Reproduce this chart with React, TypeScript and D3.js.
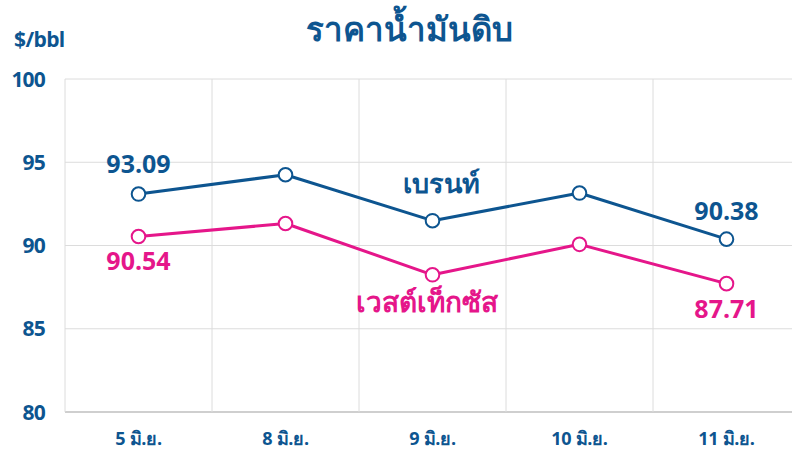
import React from "react";
import * as d3 from "d3";

const categories = ["5 มิ.ย.", "8 มิ.ย.", "9 มิ.ย.", "10 มิ.ย.", "11 มิ.ย."];
const brent = [93.09, 94.25, 91.49, 93.15, 90.38];
const wti = [90.54, 91.32, 88.24, 90.07, 87.71];
const yTicks = [80, 85, 90, 95, 100];

const W = 792;
const H = 450;
const BLUE = "#0d5590";
const PINK = "#e5168a";
const FONT = "'Open Sans', 'Noto Sans', sans-serif";

export default function App() {
  const x = d3.scaleBand<string>().domain(categories).range([65, 800]);
  const y = d3.scaleLinear().domain([80, 100]).range([412, 79]);
  const cx = (c: string) => (x(c) as number) + x.bandwidth() / 2;
  const line = d3
    .line<number>()
    .x((_, i) => cx(categories[i]))
    .y((d) => y(d));

  const series = [
    { values: brent, color: BLUE },
    { values: wti, color: PINK },
  ];

  return (
    <svg
      width={W}
      height={H}
      style={{ position: "absolute", left: 0, top: 0, background: "#fff" }}
    >
      <rect width={W} height={H} fill="#fff" />
      {yTicks.map((t) => (
        <line
          key={"h" + t}
          x1={65}
          x2={800}
          y1={y(t)}
          y2={y(t)}
          stroke={t === 80 ? "#bfbfbf" : "#dcdcdc"}
          strokeWidth={t === 80 ? 1.5 : 1}
        />
      ))}
      {categories.map((c) => (
        <line
          key={"v" + c}
          x1={x(c) as number}
          x2={x(c) as number}
          y1={y(100)}
          y2={y(80)}
          stroke="#dcdcdc"
          strokeWidth={1}
        />
      ))}
      {yTicks.map((t) => (
        <text
          key={"yl" + t}
          x={45}
          y={y(t)}
          dy="0.36em"
          textAnchor="end"
          fontFamily={FONT}
          fontWeight={700}
          fontSize={21}
          fill={BLUE}
          letterSpacing={-0.8}
        >
          {t}
        </text>
      ))}
      {categories.map((c) => (
        <text
          key={"xl" + c}
          x={cx(c)}
          y={445}
          textAnchor="middle"
          fontFamily={FONT}
          fontWeight={700}
          fontSize={18}
          fill={BLUE}
          letterSpacing={-0.3}
        >
          {c}
        </text>
      ))}
      <text
        x={409}
        y={41}
        textAnchor="middle"
        fontFamily={FONT}
        fontWeight={700}
        fontSize={33}
        fill={BLUE}
      >
        ราคาน้ำมันดิบ
      </text>
      <text
        x={14}
        y={47}
        fontFamily={FONT}
        fontWeight={700}
        fontSize={21}
        fill={BLUE}
        letterSpacing={-0.6}
      >
        $/bbl
      </text>
      {series.map((s, si) => (
        <g key={"s" + si}>
          <path
            d={line(s.values) || ""}
            fill="none"
            stroke={s.color}
            strokeWidth={3}
            strokeLinejoin="round"
          />
          {s.values.map((v, i) => (
            <circle
              key={i}
              cx={cx(categories[i])}
              cy={y(v)}
              r={6.8}
              fill="#fff"
              stroke={s.color}
              strokeWidth={2}
            />
          ))}
        </g>
      ))}
      <text x={cx(categories[0])} y={173} textAnchor="middle" fontFamily={FONT} fontWeight={700} fontSize={25} fill={BLUE}>
        {brent[0].toFixed(2)}
      </text>
      <text x={cx(categories[4])} y={220} textAnchor="middle" fontFamily={FONT} fontWeight={700} fontSize={25} fill={BLUE}>
        {brent[4].toFixed(2)}
      </text>
      <text x={cx(categories[0])} y={270} textAnchor="middle" fontFamily={FONT} fontWeight={700} fontSize={25} fill={PINK}>
        {wti[0].toFixed(2)}
      </text>
      <text x={cx(categories[4])} y={318} textAnchor="middle" fontFamily={FONT} fontWeight={700} fontSize={25} fill={PINK}>
        {wti[4].toFixed(2)}
      </text>
      <text x={441} y={193} textAnchor="middle" fontFamily={FONT} fontWeight={700} fontSize={27} fill={BLUE}>
        เบรนท์
      </text>
      <text x={427} y={312} textAnchor="middle" fontFamily={FONT} fontWeight={700} fontSize={28} fill={PINK}>
        เวสต์เท็กซัส
      </text>
    </svg>
  );
}
